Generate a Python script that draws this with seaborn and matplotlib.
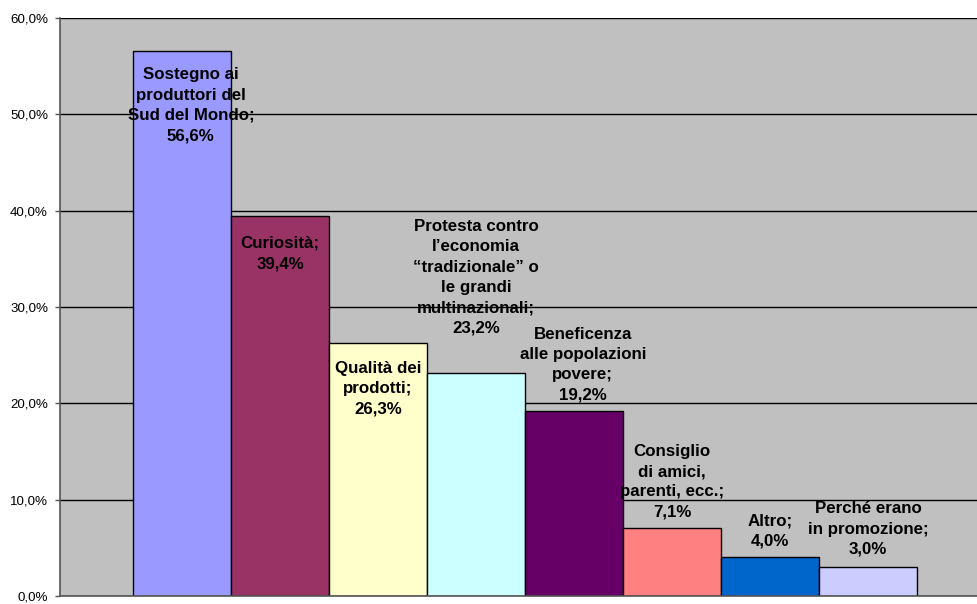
import matplotlib
matplotlib.use("Agg")
import matplotlib.pyplot as plt
import pandas as pd
import seaborn as sns

# Motivazioni d'acquisto (percentuali)
categories = [
    "Sostegno ai\nproduttori del\nSud del Mondo",
    "Curiosità",
    "Qualità dei\nprodotti",
    "Protesta contro\nl’economia\n“tradizionale” o\nle grandi\nmultinazionali",
    "Beneficenza\nalle popolazioni\npovere",
    "Consiglio\ndi amici,\nparenti, ecc.",
    "Altro",
    "Perché erano\nin promozione",
]
values = [56.6, 39.4, 26.3, 23.2, 19.2, 7.1, 4.0, 3.0]
y_ticks = [0, 10, 20, 30, 40, 50, 60]

colors = ["#9999FF", "#993366", "#FFFFCC", "#CCFFFF",
          "#660066", "#FF8080", "#0066CC", "#CCCCFF"]

# label placement relative to each bar top: (dx, dy, vertical anchor)
label_offsets = [
    (0.09, -1.7, "top"),
    (0.0, -2.0, "top"),
    (0.0, -1.9, "top"),
    (0.0, 3.8, "bottom"),
    (0.09, 0.85, "bottom"),
    (0.0, 0.8, "bottom"),
    (0.0, 0.9, "bottom"),
    (0.0, 1.05, "bottom"),
]

plt.rcParams["font.family"] = ["Liberation Sans", "DejaVu Sans"]


def pct(v):
    return f"{v:.1f}".replace(".", ",") + "%"


df = pd.DataFrame({"motivo": categories, "quota": values})

fig = plt.figure(figsize=(9.78, 6.04), dpi=100)
ax = fig.add_axes([60 / 978, 8 / 604, 918 / 978, 578 / 604])

sns.barplot(data=df, x="motivo", y="quota", hue="motivo", palette=colors,
            width=1.0, saturation=1, edgecolor="black", linewidth=1,
            legend=False, ax=ax)

ax.set_facecolor("#C0C0C0")
ax.set_xlim(-1.245, 8.122)
ax.set_ylim(0, 60)
ax.set_yticks(y_ticks)
ax.set_yticklabels([pct(t) for t in y_ticks])
ax.set_xticks([])
ax.set_xlabel("")
ax.set_ylabel("")
ax.yaxis.grid(True, color="black", linewidth=1)
ax.set_axisbelow(True)

for side in ("top", "right"):
    ax.spines[side].set_visible(False)
for side in ("left", "bottom"):
    ax.spines[side].set_color("#555555")
    ax.spines[side].set_linewidth(1.2)

ax.tick_params(axis="y", length=3.6, width=1, color="#555555", pad=5,
               labelsize=9.6, labelcolor="black")

for i, (cat, v) in enumerate(zip(categories, values)):
    dx, dy, va = label_offsets[i]
    ax.text(i + dx, v + dy, f"{cat};\n{pct(v)}", ha="center", va=va,
            multialignment="center", fontsize=12.2, fontweight="bold",
            linespacing=1.45, color="black")

fig.savefig("out.png", dpi=100)
